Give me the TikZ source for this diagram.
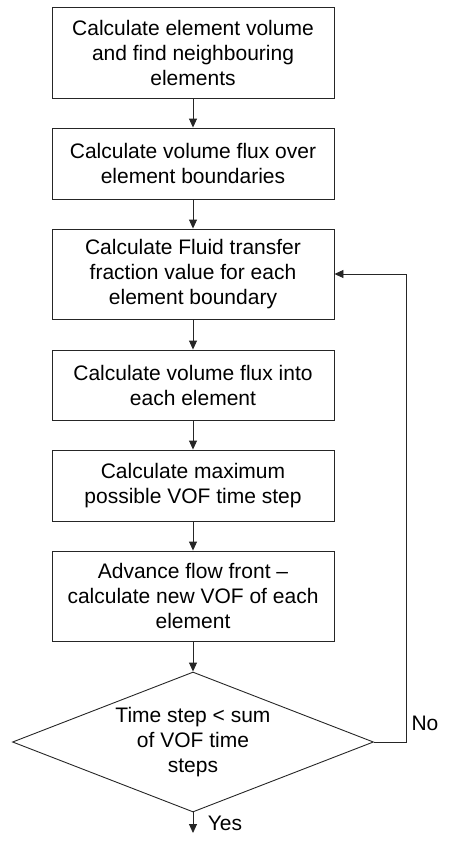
\documentclass[tikz,border=0pt]{standalone}
\usepackage{fontspec}
\setmainfont{Liberation Sans}
\usetikzlibrary{arrows.meta,shapes.geometric}

\tikzset{
  stepbox/.style={draw=black!85, line width=0.9pt, rectangle, minimum width=282pt,
    inner sep=0pt, align=center, font=\fontsize{21}{25}\selectfont},
  decision/.style={draw=black!85, line width=0.9pt, diamond, aspect=2.58,
    minimum width=361pt, minimum height=140pt, inner sep=0pt, align=center,
    font=\fontsize{21}{25}\selectfont},
  flow/.style={draw=black!85, line width=0.9pt, -{Triangle[length=9pt,width=8pt]}},
  answer/.style={font=\fontsize{21}{25}\selectfont, inner sep=0pt}
}

\begin{document}
\begin{tikzpicture}[x=1pt, y=-1pt]
  \useasboundingbox (0,0) rectangle (449,844);

  % process steps
  \node[stepbox, minimum height=91pt] (b1) at (193,52.5)
    {Calculate element volume\\and find neighbouring\\elements};
  \node[stepbox, minimum height=71pt] (b2) at (193,163.5)
    {Calculate volume flux over\\element boundaries};
  \node[stepbox, minimum height=90pt] (b3) at (193,274)
    {Calculate Fluid transfer\\fraction value for each\\element boundary};
  \node[stepbox, minimum height=70pt] (b4) at (193,385)
    {Calculate volume flux into\\each element};
  \node[stepbox, minimum height=71pt] (b5) at (193,485.5)
    {Calculate maximum\\possible VOF time step};
  \node[stepbox, minimum height=90pt] (b6) at (193,596)
    {Advance flow front --\\calculate new VOF of each\\element};

  % loop test
  \node[decision] (dec) at (193,742)
    {Time step < sum\\of VOF time\\steps};

  \coordinate (exit) at (193,833);
  \coordinate (loopcorner) at (406,742);

  % connectors
  \draw[flow] (b1) -- (b2);
  \draw[flow] (b2) -- (b3);
  \draw[flow] (b3) -- (b4);
  \draw[flow] (b4) -- (b5);
  \draw[flow] (b5) -- (b6);
  \draw[flow] (b6) -- (dec);
  \draw[flow] (dec.south) -- (exit);
  \draw[flow] (dec.east) -- (loopcorner) |- (b3.east);

  % branch labels
  \node[answer] (no) at (425,723) {No};
  \node[answer] (yes) at (225,823) {Yes};
\end{tikzpicture}
\end{document}
